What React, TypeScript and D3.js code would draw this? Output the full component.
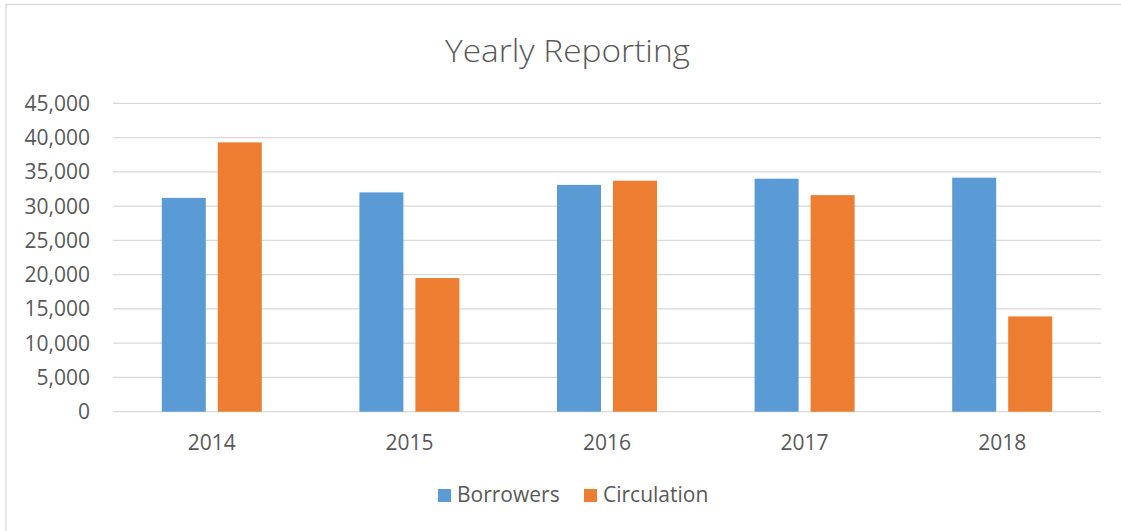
import React from "react";
import * as d3 from "d3";

const years = ["2014", "2015", "2016", "2017", "2018"];
const seriesNames = ["Borrowers", "Circulation"];
const borrowers = [31200, 32000, 33100, 34000, 34150];
const circulation = [39300, 19500, 33700, 31600, 13900];
const yTicks = [0, 5000, 10000, 15000, 20000, 25000, 30000, 35000, 40000, 45000];
const colors = ["#5B9BD5", "#ED7D31"];

const W = 1121;
const H = 531;
const FONT = "'Open Sans', 'DejaVu Sans', sans-serif";

export default function App() {
  const x = d3.scaleBand<string>().domain(years).range([113, 1101]).paddingInner(0).paddingOuter(0);
  const groupW = 100;
  const inner = d3
    .scaleBand<string>()
    .domain(seriesNames)
    .range([0, groupW])
    .paddingInner(12 / 56)
    .paddingOuter(0);
  const y = d3.scaleLinear().domain([0, 45000]).range([411.7, 103.3]);
  const fmt = d3.format(",");
  const seriesVals = [borrowers, circulation];

  return (
    <svg
      width={W}
      height={H}
      style={{ position: "absolute", left: 0, top: 0, background: "#fff" }}
      fontFamily={FONT}
    >
      <rect x={0} y={0} width={W} height={H} fill="#fff" />
      <rect x={6} y={4.5} width={W + 10} height={H + 10} fill="none" stroke="#d9d9d9" strokeWidth={1.3} />
      <text
        x={567.5}
        y={62}
        textAnchor="middle"
        fontSize={32}
        fontWeight={300}
        fill="#595959"
        textLength={245}
        lengthAdjust="spacingAndGlyphs"
      >
        Yearly Reporting
      </text>
      {yTicks.map((t) => (
        <g key={t}>
          <line x1={113} x2={1101} y1={y(t)} y2={y(t)} stroke="#d9d9d9" strokeWidth={1.3} />
          <text x={90} y={y(t) + 7.5} textAnchor="end" fontSize={21} fill="#595959">
            {fmt(t)}
          </text>
        </g>
      ))}
      {years.map((yr, i) => {
        const gx = (x(yr) as number) + (x.bandwidth() - groupW) / 2;
        return (
          <g key={yr}>
            {seriesNames.map((s, j) => {
              const v = seriesVals[j][i];
              return (
                <rect
                  key={s}
                  x={gx + (inner(s) as number)}
                  y={y(v)}
                  width={inner.bandwidth()}
                  height={y(0) - y(v)}
                  fill={colors[j]}
                />
              );
            })}
            <text
              x={(x(yr) as number) + x.bandwidth() / 2}
              y={450}
              textAnchor="middle"
              fontSize={21}
              fill="#595959"
            >
              {yr}
            </text>
          </g>
        );
      })}
      <g>
        <rect x={438} y={489} width={13} height={13} fill={colors[0]} />
        <text x={457} y={502} fontSize={21} fill="#595959">
          {seriesNames[0]}
        </text>
        <rect x={584} y={489} width={13} height={13} fill={colors[1]} />
        <text x={603} y={502} fontSize={21} fill="#595959">
          {seriesNames[1]}
        </text>
      </g>
    </svg>
  );
}
